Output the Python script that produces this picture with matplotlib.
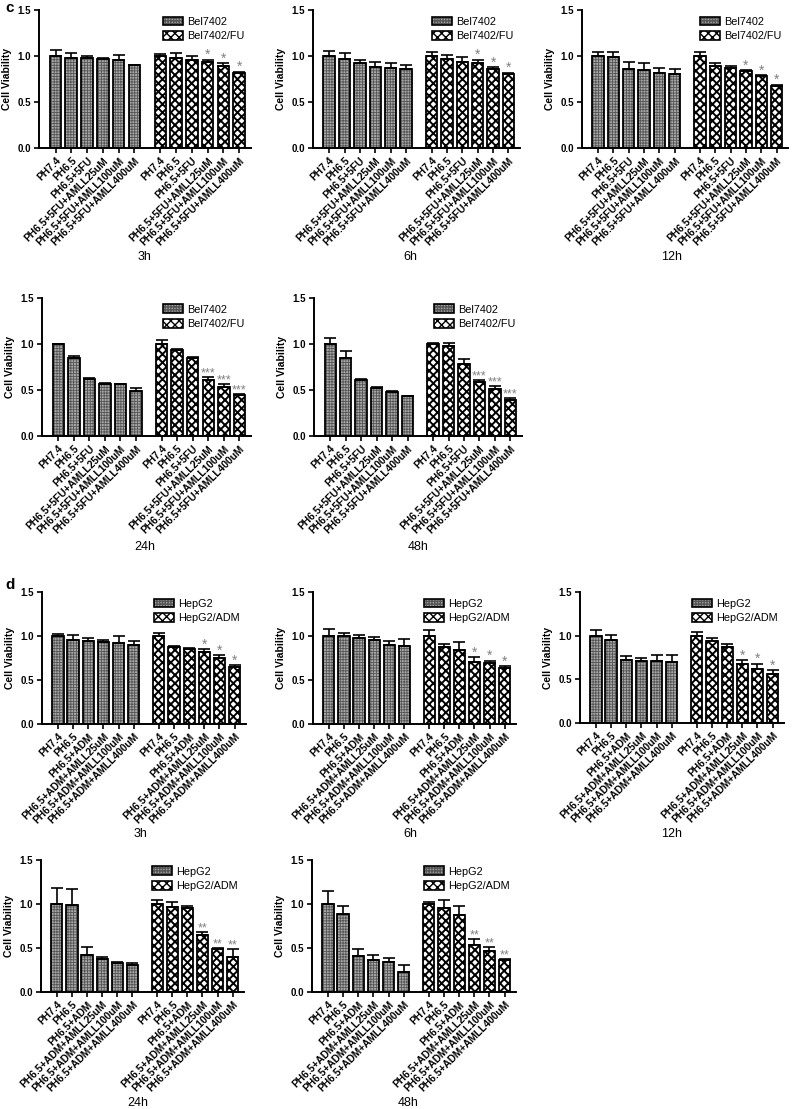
import numpy as np
import matplotlib
matplotlib.use("Agg")
import matplotlib.pyplot as plt
from matplotlib.patches import Patch

plt.rcParams['font.family'] = ['Liberation Sans', 'DejaVu Sans']

# ---------------- data ----------------
c_labels = ['PH7.4', 'PH6.5', 'PH6.5+5FU', 'PH6.5+5FU+AMLL25uM',
            'PH6.5+5FU+AMLL100uM', 'PH6.5+5FU+AMLL400uM']
d_labels = ['PH7.4', 'PH6.5', 'PH6.5+ADM', 'PH6.5+ADM+AMLL25uM',
            'PH6.5+ADM+AMLL100uM', 'PH6.5+ADM+AMLL400uM']
c_series = ['Bel7402', 'Bel7402/FU']
d_series = ['HepG2', 'HepG2/ADM']
times = ['3h', '6h', '12h', '24h', '48h']

# Panel c (Bel7402 / Bel7402-FU)
c3_par = [1.00, 0.98, 0.975, 0.97, 0.96, 0.90]
c3_par_err = [0.07, 0.05, 0.02, 0.01, 0.05, 0.005]
c3_res = [1.00, 0.98, 0.96, 0.94, 0.89, 0.81]
c3_res_err = [0.02, 0.05, 0.04, 0.02, 0.03, 0.02]
c3_stars = ['', '', '', '*', '*', '*']

c6_par = [1.00, 0.97, 0.92, 0.88, 0.87, 0.86]
c6_par_err = [0.05, 0.06, 0.04, 0.05, 0.05, 0.04]
c6_res = [1.00, 0.97, 0.94, 0.92, 0.86, 0.80]
c6_res_err = [0.04, 0.04, 0.05, 0.04, 0.02, 0.02]
c6_stars = ['', '', '', '*', '*', '*']

c12_par = [1.00, 0.99, 0.86, 0.85, 0.82, 0.80]
c12_par_err = [0.04, 0.05, 0.07, 0.07, 0.05, 0.06]
c12_res = [1.00, 0.89, 0.87, 0.84, 0.78, 0.67]
c12_res_err = [0.04, 0.03, 0.02, 0.01, 0.01, 0.02]
c12_stars = ['', '', '', '*', '*', '*']

c24_par = [1.00, 0.85, 0.62, 0.57, 0.56, 0.49]
c24_par_err = [0.005, 0.02, 0.01, 0.01, 0.01, 0.03]
c24_res = [1.00, 0.93, 0.85, 0.61, 0.53, 0.45]
c24_res_err = [0.04, 0.02, 0.01, 0.03, 0.04, 0.01]
c24_stars = ['', '', '', '***', '***', '***']

c48_par = [1.00, 0.85, 0.61, 0.52, 0.48, 0.43]
c48_par_err = [0.07, 0.07, 0.01, 0.01, 0.01, 0.01]
c48_res = [1.00, 0.98, 0.78, 0.59, 0.51, 0.39]
c48_res_err = [0.01, 0.03, 0.06, 0.02, 0.03, 0.02]
c48_stars = ['', '', '', '***', '***', '***']

# Panel d (HepG2 / HepG2-ADM)
d3_par = [1.00, 0.96, 0.94, 0.93, 0.92, 0.90]
d3_par_err = [0.02, 0.05, 0.04, 0.02, 0.08, 0.04]
d3_res = [1.00, 0.87, 0.85, 0.82, 0.75, 0.65]
d3_res_err = [0.03, 0.02, 0.01, 0.03, 0.03, 0.02]
d3_stars = ['', '', '', '*', '*', '*']

d6_par = [1.00, 1.00, 0.98, 0.96, 0.90, 0.89]
d6_par_err = [0.08, 0.03, 0.03, 0.03, 0.04, 0.08]
d6_res = [1.00, 0.87, 0.84, 0.71, 0.69, 0.64]
d6_res_err = [0.07, 0.04, 0.09, 0.05, 0.03, 0.02]
d6_stars = ['', '', '', '*', '*', '*']

d12_par = [1.00, 0.95, 0.72, 0.71, 0.71, 0.70]
d12_par_err = [0.06, 0.06, 0.05, 0.04, 0.07, 0.08]
d12_res = [1.00, 0.94, 0.87, 0.68, 0.62, 0.56]
d12_res_err = [0.04, 0.03, 0.04, 0.04, 0.06, 0.05]
d12_stars = ['', '', '', '*', '*', '*']

d24_par = [1.00, 0.99, 0.42, 0.37, 0.33, 0.31]
d24_par_err = [0.18, 0.18, 0.09, 0.03, 0.01, 0.02]
d24_res = [1.00, 0.97, 0.96, 0.65, 0.49, 0.40]
d24_res_err = [0.05, 0.05, 0.02, 0.03, 0.01, 0.09]
d24_stars = ['', '', '', '**', '**', '**']

d48_par = [1.00, 0.89, 0.41, 0.36, 0.34, 0.23]
d48_par_err = [0.15, 0.09, 0.08, 0.06, 0.05, 0.08]
d48_res = [1.00, 0.96, 0.88, 0.53, 0.47, 0.36]
d48_res_err = [0.02, 0.08, 0.10, 0.07, 0.04, 0.02]
d48_stars = ['', '', '', '**', '**', '**']

# ---------------- figure ----------------
W, H = 798, 1109
fig = plt.figure(figsize=(W / 100, H / 100), dpi=100)


def px_axes(left, top, right, bottom):
    return fig.add_axes([left / W, 1 - bottom / H, (right - left) / W, (bottom - top) / H])


PAR_FACE = '#a9a9a9'
PAR_HATCH = '#555555'
RES_FACE = 'white'
GAP = 6.65
BW = 0.74


def draw_panel(ax, par, par_err, res, res_err, stars, labels, series, tlabel, tx, ty):
    x1 = np.arange(len(par))
    x2 = np.arange(len(res)) + GAP
    # parental line: grey fill with fine texture, then black outline on top
    with plt.rc_context({'hatch.linewidth': 0.6}):
        ax.bar(x1, par, width=BW, color=PAR_FACE, edgecolor=PAR_HATCH,
               linewidth=0, hatch='++++++', zorder=2)
    ax.bar(x1, par, width=BW, fill=False, edgecolor='black', linewidth=1.3, zorder=2.5)
    # resistant line: white fill with black check texture
    with plt.rc_context({'hatch.linewidth': 1.4}):
        ax.bar(x2, res, width=BW, color=RES_FACE, edgecolor='black',
               linewidth=1.3, hatch='xxxx', zorder=2)
    ax.errorbar(x1, par, yerr=[np.zeros(len(par)), par_err], fmt='none',
                ecolor='black', elinewidth=1.2, capsize=4.2, capthick=1.2, zorder=3)
    ax.errorbar(x2, res, yerr=[np.zeros(len(res)), res_err], fmt='none',
                ecolor='black', elinewidth=1.2, capsize=4.2, capthick=1.2, zorder=3)
    for xi, v, e, s in zip(x2, res, res_err, stars):
        if s:
            ax.annotate(s, (xi, v + e), xytext=(0, 0.3), textcoords='offset points',
                        ha='center', va='baseline',
                        fontsize=10 if len(s) == 1 else 9, color='#808080')
    ax.set_ylim(0, 1.5)
    ax.set_xlim(-1.05, 12.4)
    ax.set_yticks([0, 0.5, 1.0, 1.5])
    ax.set_yticklabels(['0.0', '0.5', '1.0', '1.5'], fontsize=7, fontweight='bold')
    ax.set_xticks(list(x1) + list(x2))
    ax.set_xticklabels(labels + labels, rotation=45, ha='right',
                       rotation_mode='anchor', fontsize=7.4, fontweight='bold')
    for sp in ['top', 'right']:
        ax.spines[sp].set_visible(False)
    for sp in ['left', 'bottom']:
        ax.spines[sp].set_linewidth(1.4)
    ax.tick_params(axis='both', length=3.5, width=1.2, pad=2)
    ax.set_ylabel('Cell Viability', fontsize=7.5, fontweight='bold', labelpad=4)
    with plt.rc_context({'hatch.linewidth': 0.6}):
        h1 = Patch(facecolor=PAR_FACE, edgecolor=PAR_HATCH, hatch='++++++', linewidth=0)
    h1b = Patch(fill=False, edgecolor='black', linewidth=1.2)
    with plt.rc_context({'hatch.linewidth': 1.4}):
        h2 = Patch(facecolor=RES_FACE, edgecolor='black', hatch='xxxx', linewidth=1.2)
    ax.legend([(h1, h1b), h2], series, loc='upper right', bbox_to_anchor=(1.0, 1.0),
              frameon=False, fontsize=7.8, handlelength=1.8, handleheight=0.9,
              handletextpad=0.4, labelspacing=0.4, borderaxespad=0.2)
    fig.text(tx / W, 1 - ty / H, tlabel, ha='center', va='center', fontsize=9)


c_data = [
    (c3_par, c3_par_err, c3_res, c3_res_err, c3_stars),
    (c6_par, c6_par_err, c6_res, c6_res_err, c6_stars),
    (c12_par, c12_par_err, c12_res, c12_res_err, c12_stars),
    (c24_par, c24_par_err, c24_res, c24_res_err, c24_stars),
    (c48_par, c48_par_err, c48_res, c48_res_err, c48_stars),
]
d_data = [
    (d3_par, d3_par_err, d3_res, d3_res_err, d3_stars),
    (d6_par, d6_par_err, d6_res, d6_res_err, d6_stars),
    (d12_par, d12_par_err, d12_res, d12_res_err, d12_stars),
    (d24_par, d24_par_err, d24_res, d24_res_err, d24_stars),
    (d48_par, d48_par_err, d48_res, d48_res_err, d48_stars),
]

# pixel boxes (left, top, right, bottom) and time-label positions
c_boxes = [(39, 10, 251, 148), (313, 10, 520, 148), (582, 10, 788, 148),
           (42, 298, 251, 436), (314, 298, 522, 436)]
c_tpos = [(145, 257), (410, 257), (672, 257), (145, 547), (418, 547)]
d_boxes = [(42, 592, 246, 724), (313, 592, 516, 724), (580, 592, 784, 723),
           (41, 860, 244, 992), (312, 860, 516, 992)]
d_tpos = [(140, 834), (410, 834), (672, 834), (138, 1103), (408, 1103)]

for box, tp, dat, t in zip(c_boxes, c_tpos, c_data, times):
    ax = px_axes(*box)
    draw_panel(ax, *dat, c_labels, c_series, t, *tp)
for box, tp, dat, t in zip(d_boxes, d_tpos, d_data, times):
    ax = px_axes(*box)
    draw_panel(ax, *dat, d_labels, d_series, t, *tp)

fig.text(5 / W, 1 - 8 / H, 'c', fontsize=11, fontweight='bold', ha='left', va='center')
fig.text(5 / W, 1 - 585 / H, 'd', fontsize=11, fontweight='bold', ha='left', va='center')

fig.savefig('out.png', dpi=100)
